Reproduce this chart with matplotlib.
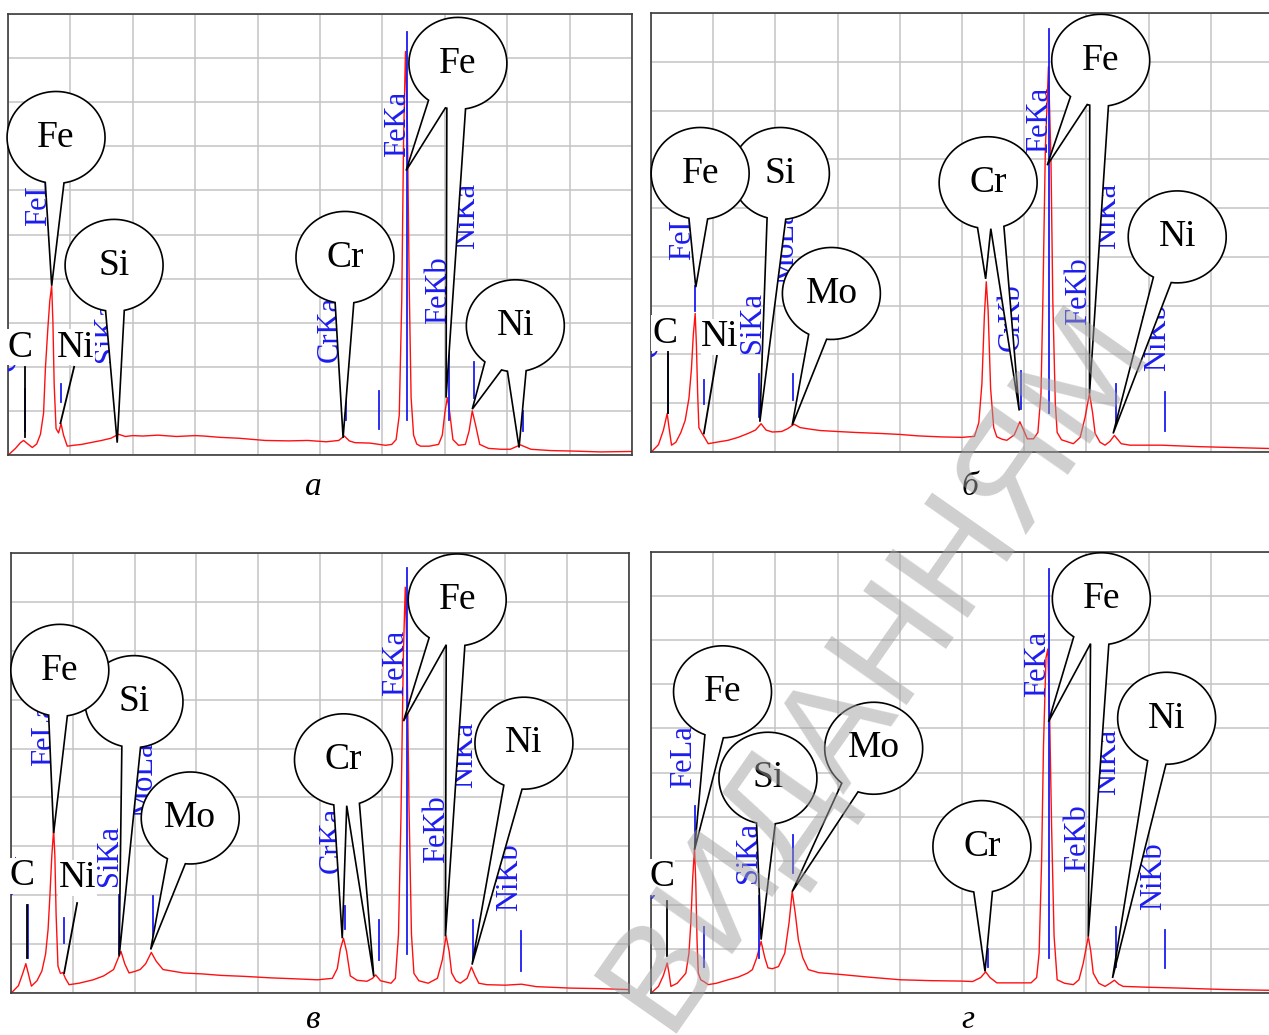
import numpy as np
import matplotlib
matplotlib.use('Agg')
import matplotlib.pyplot as plt
from matplotlib.patches import Polygon

plt.rcParams['font.family'] = ['Liberation Serif', 'DejaVu Serif']

W, H, DPI = 1269, 1035, 100
BLUE = '#1c1cf0'

# ---------------- panel а ----------------
a_kev = [0.02, 0.12, 0.20, 0.25, 0.30, 0.39, 0.46, 0.52, 0.57, 0.60, 0.64, 0.67, 0.70, 0.72, 0.74,
         0.77, 0.81, 0.85, 0.89, 0.95, 1.05, 1.18, 1.32, 1.50, 1.65, 1.77, 1.88, 2.00, 2.16, 2.40,
         2.70, 3.00, 3.14, 3.40, 3.70, 4.12, 4.50, 4.80, 5.10, 5.30, 5.39, 5.47, 5.56, 5.80, 6.05,
         6.15, 6.22, 6.27, 6.31, 6.34, 6.37, 6.40, 6.43, 6.46, 6.50, 6.55, 6.61, 6.75, 6.90, 6.96,
         7.00, 7.04, 7.08, 7.13, 7.22, 7.33, 7.39, 7.44, 7.49, 7.56, 7.70, 7.90, 8.05, 8.21, 8.38,
         8.70, 9.03, 9.50, 10.0]
a_cps = [0.02, 0.15, 0.28, 0.33, 0.27, 0.17, 0.25, 0.47, 0.95, 1.98, 2.90, 3.50, 3.84, 3.00, 1.60,
         0.60, 0.50, 0.71, 0.45, 0.20, 0.22, 0.24, 0.28, 0.33, 0.38, 0.47, 0.42, 0.44, 0.43, 0.45,
         0.42, 0.44, 0.43, 0.40, 0.38, 0.33, 0.32, 0.33, 0.30, 0.33, 0.43, 0.32, 0.28, 0.27, 0.22,
         0.24, 0.35, 0.90, 3.50, 7.20, 9.15, 7.50, 3.80, 1.30, 0.45, 0.25, 0.20, 0.20, 0.24, 0.45,
         0.95, 1.30, 0.95, 0.35, 0.22, 0.24, 0.55, 1.00, 0.70, 0.24, 0.15, 0.13, 0.13, 0.23, 0.13,
         0.10, 0.09, 0.07, 0.08]
a_lines = [(0.277, 0.55, 1.5), (0.85, 1.2, 1.6), (1.74, 0.8, 3.2), (5.41, 0.8, 2.5),
           (5.95, 0.58, 1.45), (6.40, 0.8, 9.6), (7.06, 0.8, 2.5), (7.47, 1.3, 2.1), (8.26, 0.55, 1.0)]
a_labels = [('CK', 0.0, 1.9), ('FeLa', 0.49, 5.2), ('SiKa', 1.58, 2.1), ('CrKa', 5.17, 2.1),
            ('FeKa', 6.25, 6.76), ('FeKb', 6.90, 2.97), ('NiKa', 7.35, 4.67)]
a_tags = [('C', 0.20, 2.44, [(0.275, 2.0), (0.275, 0.4)]),
          ('Ni', 1.08, 2.44, [(1.06, 2.0), (0.84, 0.72)])]
a_bubbles = [('Fe', 0.77, 7.20, [(0.70, 3.84)]),
             ('Si', 1.70, 4.30, [(1.75, 0.28)]),
             ('Cr', 5.40, 4.48, [(5.37, 0.39)]),
             ('Fe', 7.21, 8.88, [(6.38, 6.45), (7.02, 1.30)]),
             ('Ni', 8.13, 2.93, [(7.44, 1.04), (8.19, 0.17)])]

# ---------------- panel б ----------------
b_kev = [0.02, 0.12, 0.20, 0.26, 0.29, 0.33, 0.40, 0.48, 0.55, 0.61, 0.65, 0.68, 0.71, 0.73, 0.75,
         0.77, 0.82, 0.86, 0.92, 1.05, 1.24, 1.40, 1.56, 1.68, 1.77, 1.85, 1.95, 2.10, 2.20, 2.30,
         2.40, 2.55, 2.72, 3.00, 3.30, 3.69, 4.00, 4.30, 4.66, 5.00, 5.20, 5.27, 5.32, 5.36, 5.39,
         5.42, 5.46, 5.51, 5.56, 5.65, 5.72, 5.84, 5.93, 6.00, 6.05, 6.15, 6.22, 6.27, 6.30, 6.34,
         6.39, 6.43, 6.46, 6.50, 6.53, 6.60, 6.79, 6.90, 6.98, 7.05, 7.10, 7.14, 7.22, 7.30, 7.38,
         7.45, 7.56, 7.70, 8.20, 8.80, 9.40, 10.0]
b_cps = [0.02, 0.15, 0.45, 0.79, 0.50, 0.14, 0.20, 0.40, 0.65, 1.10, 1.70, 2.40, 2.84, 2.20, 1.20,
         0.50, 0.38, 0.30, 0.17, 0.20, 0.24, 0.30, 0.38, 0.45, 0.58, 0.45, 0.41, 0.42, 0.48, 0.57,
         0.50, 0.47, 0.44, 0.42, 0.40, 0.38, 0.36, 0.33, 0.31, 0.30, 0.32, 0.60, 1.40, 2.80, 3.49,
         2.90, 1.30, 0.50, 0.31, 0.26, 0.24, 0.35, 0.62, 0.42, 0.27, 0.27, 0.40, 1.20, 3.10, 6.20,
         7.90, 6.00, 3.10, 1.00, 0.40, 0.25, 0.17, 0.30, 0.72, 1.20, 0.80, 0.38, 0.20, 0.14, 0.22,
         0.34, 0.17, 0.14, 0.14, 0.11, 0.09, 0.07]
b_lines = [(0.277, 0.8, 2.0), (0.705, 2.9, 3.4), (0.85, 0.99, 1.47), (1.74, 0.72, 1.6),
           (2.29, 1.06, 1.6), (5.95, 0.89, 1.67), (6.40, 0.8, 8.68), (7.47, 0.58, 1.4),
           (8.26, 0.44, 1.23)]
b_labels = [('CK', -0.02, 1.95), ('FeLa', 0.50, 3.93), ('SiKa', 1.63, 2.02), ('MoLa', 2.17, 3.45),
            ('CrKb', 5.79, 2.08), ('FeKa', 6.24, 6.12), ('FeKb', 6.88, 2.60), ('NiKa', 7.34, 4.17),
            ('NiKb', 8.14, 1.67)]
b_tags = [('C', 0.22, 2.43, [(0.27, 2.08), (0.27, 0.79)]),
          ('Ni', 1.11, 2.36, [(1.06, 1.98), (0.85, 0.38)])]
b_bubbles = [('Si', 2.08, 5.71, [(1.75, 0.62)]),
             ('Fe', 0.79, 5.71, [(0.72, 3.38)]),
             ('Mo', 2.90, 3.25, [(2.27, 0.55)]),
             ('Cr', 5.42, 5.52, [(5.38, 3.55), (5.92, 0.85)]),
             ('Fe', 7.23, 8.03, [(6.37, 5.88), (7.05, 1.20)]),
             ('Ni', 8.46, 4.41, [(7.43, 0.38)])]

# ---------------- panel в ----------------
c_kev = [0.02, 0.12, 0.19, 0.24, 0.28, 0.33, 0.42, 0.50, 0.56, 0.60, 0.63, 0.66, 0.69, 0.71, 0.73,
         0.76, 0.80, 0.84, 0.88, 0.94, 1.10, 1.33, 1.50, 1.66, 1.73, 1.78, 1.84, 1.91, 2.00, 2.09,
         2.18, 2.27, 2.35, 2.46, 2.60, 2.79, 3.10, 3.40, 3.78, 4.20, 4.60, 4.96, 5.20, 5.28, 5.33,
         5.38, 5.43, 5.49, 5.60, 5.76, 5.85, 5.90, 5.98, 6.15, 6.22, 6.27, 6.31, 6.35, 6.38, 6.41,
         6.44, 6.48, 6.52, 6.60, 6.75, 6.90, 6.98, 7.04, 7.09, 7.13, 7.20, 7.27, 7.38, 7.45, 7.51,
         7.57, 7.70, 8.00, 8.26, 8.50, 9.06, 9.50, 10.0]
c_cps = [0.02, 0.15, 0.40, 0.60, 0.40, 0.14, 0.25, 0.45, 0.80, 1.30, 2.00, 2.80, 3.34, 2.80, 1.60,
         0.55, 0.40, 0.42, 0.30, 0.17, 0.20, 0.27, 0.35, 0.48, 0.70, 0.85, 0.60, 0.41, 0.44, 0.48,
         0.60, 0.83, 0.65, 0.48, 0.45, 0.41, 0.39, 0.36, 0.34, 0.31, 0.29, 0.27, 0.30, 0.50, 0.90,
         1.12, 0.85, 0.35, 0.26, 0.24, 0.30, 0.37, 0.25, 0.20, 0.30, 1.20, 3.60, 7.00, 8.30, 6.80,
         3.80, 1.20, 0.40, 0.25, 0.20, 0.30, 0.68, 1.17, 0.85, 0.41, 0.25, 0.20, 0.30, 0.53, 0.35,
         0.20, 0.17, 0.16, 0.18, 0.13, 0.10, 0.09, 0.07]
c_lines = [(0.277, 0.72, 1.8), (0.85, 1.02, 1.53), (1.74, 0.8, 2.0), (2.29, 1.09, 1.98),
           (5.41, 1.3, 1.77), (5.95, 0.68, 1.5), (6.40, 0.8, 8.69), (7.47, 0.68, 1.5),
           (8.26, 0.44, 1.26)]
c_labels = [('CK', -0.04, 1.98), ('FeLa', 0.54, 4.64), ('SiKa', 1.60, 2.18), ('MoLa', 2.16, 3.61),
            ('CrKa', 5.20, 2.45), ('FeKa', 6.22, 6.07), ('FeKb', 6.88, 2.66), ('NiKa', 7.34, 4.19),
            ('NiKb', 8.07, 1.67)]
c_tags = [('C', 0.18, 2.39, [(0.26, 1.8), (0.26, 0.72)]),
          ('Ni', 1.07, 2.35, [(1.07, 1.84), (0.86, 0.41)])]
c_bubbles = [('Si', 1.99, 5.96, [(1.75, 0.75)]),
             ('Fe', 0.79, 6.60, [(0.69, 3.27)]),
             ('Mo', 2.90, 3.58, [(2.26, 0.89)]),
             ('Cr', 5.38, 4.77, [(5.36, 1.12), (5.87, 0.34)]),
             ('Fe', 7.22, 8.04, [(6.35, 5.56), (7.03, 1.16)]),
             ('Ni', 8.30, 5.11, [(7.46, 0.58)])]

# ---------------- panel г ----------------
d_kev = [0.02, 0.12, 0.20, 0.26, 0.29, 0.32, 0.42, 0.50, 0.56, 0.61, 0.64, 0.67, 0.70, 0.72, 0.74,
         0.76, 0.80, 0.86, 0.92, 1.05, 1.24, 1.40, 1.55, 1.63, 1.70, 1.77, 1.83, 1.88, 1.95, 2.05,
         2.15, 2.22, 2.27, 2.32, 2.37, 2.44, 2.53, 2.70, 3.05, 3.50, 4.01, 4.50, 5.00, 5.17, 5.30,
         5.38, 5.45, 5.56, 5.80, 6.11, 6.20, 6.24, 6.28, 6.31, 6.35, 6.38, 6.41, 6.44, 6.48, 6.53,
         6.65, 6.79, 6.88, 6.95, 7.03, 7.07, 7.11, 7.20, 7.30, 7.38, 7.45, 7.52, 7.59, 8.00, 8.53,
         9.20, 10.0]
d_cps = [0.02, 0.15, 0.40, 0.68, 0.45, 0.15, 0.22, 0.35, 0.45, 0.90, 1.58, 2.60, 3.28, 2.50, 1.20,
         0.45, 0.30, 0.25, 0.19, 0.22, 0.30, 0.36, 0.45, 0.53, 0.80, 1.17, 0.80, 0.57, 0.55, 0.60,
         0.90, 1.60, 2.30, 1.80, 1.20, 0.80, 0.53, 0.46, 0.42, 0.36, 0.30, 0.28, 0.27, 0.26, 0.35,
         0.48, 0.35, 0.23, 0.23, 0.23, 0.35, 0.90, 3.00, 5.60, 7.60, 7.80, 6.20, 3.80, 1.30, 0.30,
         0.22, 0.19, 0.30, 0.68, 1.28, 0.95, 0.45, 0.22, 0.15, 0.22, 0.29, 0.20, 0.15, 0.13, 0.11,
         0.08, 0.06]
d_lines = [(0.705, 3.32, 4.23), (0.85, 0.6, 1.5), (1.74, 0.8, 2.2), (2.29, 2.72, 3.58),
           (5.41, 0.6, 1.0), (6.40, 0.8, 9.62), (7.47, 0.6, 1.5), (8.26, 0.57, 1.43)]
d_labels = [('CK', -0.05, 2.1), ('FeLa', 0.53, 4.64), ('SiKa', 1.56, 2.49), ('FeKa', 6.21, 6.72),
            ('FeKb', 6.85, 2.75), ('NiKa', 7.34, 4.49), ('NiKb', 8.08, 1.89)]
d_tags = [('C', 0.17, 2.64, [(0.26, 2.08), (0.26, 0.83)])]
d_bubbles = [('Fe', 1.15, 6.83, [(0.70, 3.25)]),
             ('Si', 1.88, 4.87, [(1.77, 1.21)]),
             ('Mo', 3.58, 5.55, [(2.27, 2.30)]),
             ('Cr', 5.32, 3.32, [(5.37, 0.49)]),
             ('Fe', 7.24, 8.94, [(6.39, 6.15), (7.03, 1.28)]),
             ('Ni', 8.29, 6.23, [(7.42, 0.34)])]

# box = (left, top, width, height) in pixels
panels = [
    dict(box=(8, 14, 624, 441), rows=10, kev=a_kev, cps=a_cps, lines=a_lines, labels=a_labels,
         tags=a_tags, bubbles=a_bubbles, letter='а', letter_xy=(313, 487)),
    dict(box=(651, 13, 622, 439), rows=9, kev=b_kev, cps=b_cps, lines=b_lines, labels=b_labels,
         tags=b_tags, bubbles=b_bubbles, letter='б', letter_xy=(970, 487)),
    dict(box=(11, 553, 618, 440), rows=9, kev=c_kev, cps=c_cps, lines=c_lines, labels=c_labels,
         tags=c_tags, bubbles=c_bubbles, letter='в', letter_xy=(313, 1020)),
    dict(box=(651, 552, 622, 441), rows=10, kev=d_kev, cps=d_cps, lines=d_lines, labels=d_labels,
         tags=d_tags, bubbles=d_bubbles, letter='г', letter_xy=(968, 1020)),
]


def bubble(ax, text, cx, cy, targets, z, rx=49, ry=46, half=11):
    # speech bubble: ellipse + wedge tails, built in display pixels
    to_px = ax.transData.transform
    c = to_px((cx, cy))
    tails = []
    for tx, ty in targets:
        p = to_px((tx, ty))
        phi = np.degrees(np.arctan2(p[1] - c[1], p[0] - c[0]))
        if phi > 90:
            phi -= 360
        tails.append([phi - half, phi + half, p])
    tails.sort(key=lambda t: t[0])
    for t0, t1 in zip(tails, tails[1:]):
        if t0[1] > t1[0]:
            mid = (t0[1] + t1[0]) / 2
            t0[1] = t1[0] = mid

    def rim(deg):
        r = np.radians(deg)
        return c + np.array([rx * np.cos(r), ry * np.sin(r)])

    pts = []
    for i, (lo, hi, p) in enumerate(tails):
        pts += [rim(lo), p, rim(hi)]
        nxt = tails[i + 1][0] if i + 1 < len(tails) else tails[0][0] + 360
        for d in np.linspace(hi, nxt, 80)[1:-1]:
            pts.append(rim(d))
    pts = ax.transData.inverted().transform(np.array(pts))
    ax.add_patch(Polygon(pts, closed=True, fc='white', ec='black', lw=1.2,
                         zorder=z, clip_on=False))
    ax.text(cx, cy, text, ha='center', va='center', fontsize=27, zorder=z + 0.1)


fig = plt.figure(figsize=(W / DPI, H / DPI), dpi=DPI)

for p in panels:
    l, t, w, h = p['box']
    ax = fig.add_axes([l / W, 1 - (t + h) / H, w / W, h / H])
    ax.set_xlim(0, 10)
    ax.set_ylim(0, p['rows'])
    ax.set_xticks(np.arange(0, 11))
    ax.set_yticks(np.arange(0, p['rows'] + 1))
    ax.tick_params(length=0, labelbottom=False, labelleft=False)
    ax.grid(True, color='#c4c4c4', lw=1.1)
    ax.set_axisbelow(True)
    for s in ax.spines.values():
        s.set_color('#3c3c3c')
        s.set_linewidth(1.2)

    ax.plot(p['kev'], p['cps'], color='#ff1010', lw=1.0, zorder=2)

    for x, y0, y1 in p['lines']:
        ax.plot([x, x], [y0, y1], color=BLUE, lw=1.3, zorder=3)
    for txt, x, y in p['labels']:
        ax.text(x, y, txt, rotation=90, ha='center', va='bottom', color=BLUE,
                fontsize=22, zorder=3, clip_on=True)

    for txt, x, y, seg in p['tags']:
        ax.plot([seg[0][0], seg[1][0]], [seg[0][1], seg[1][1]], color='black', lw=1.3, zorder=4)
        ax.text(x, y, txt, ha='center', va='center', fontsize=27, zorder=5,
                bbox=dict(fc='white', ec='none', pad=0.5))

    z = 6
    for txt, cx, cy, targets in p['bubbles']:
        bubble(ax, txt, cx, cy, targets, z)
        z += 1

    lx, ly = p['letter_xy']
    fig.text(lx / W, 1 - ly / H, p['letter'], ha='center', va='center',
             fontsize=24, style='italic')

# diagonal watermark
fig.text(876 / W, 1 - 666 / H, 'ВИДАННЯМ', rotation=55, rotation_mode='anchor',
         ha='center', va='center', fontsize=106, color='#a0a0a0', alpha=0.5,
         family=['Liberation Sans', 'DejaVu Sans'], zorder=20)

fig.savefig('out.png', dpi=DPI)
